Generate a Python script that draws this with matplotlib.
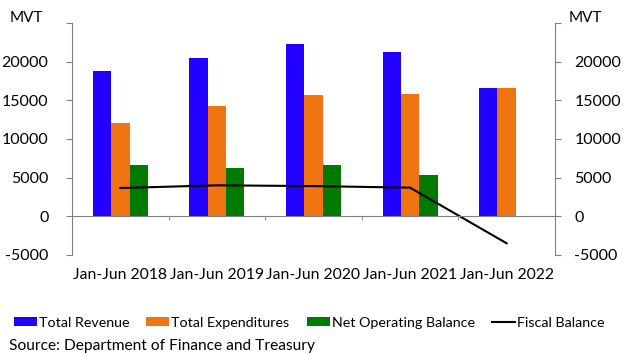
import numpy as np
import matplotlib
matplotlib.use("Agg")
import matplotlib.pyplot as plt

periods = ["Jan-Jun 2018", "Jan-Jun 2019", "Jan-Jun 2020", "Jan-Jun 2021", "Jan-Jun 2022"]
total_revenue = [18800, 20500, 22300, 21300, 16550]
total_expenditures = [12100, 14200, 15700, 15800, 16550]
net_operating_balance = [6650, 6250, 6600, 5350, 0]
fiscal_balance = [3650, 4000, 3900, 3700, -3500]

plt.rcParams['font.family'] = ['Lato', 'DejaVu Sans']
plt.rcParams['font.size'] = 11

blue = '#2200ff'
orange = '#f07412'
green = '#007a00'
grey = '#808080'

fig = plt.figure(figsize=(6.27, 3.54), dpi=100)
ax = fig.add_axes([0.115, 0.28, 0.77, 0.655])

x = np.arange(len(periods))
w = 0.19
ax.bar(x - w, total_revenue, w, color=blue, label='Total Revenue')
ax.bar(x, total_expenditures, w, color=orange, label='Total Expenditures')
ax.bar(x + w, net_operating_balance, w, color=green, label='Net Operating Balance')
ax.plot(x, fiscal_balance, color='black', lw=1.5, label='Fiscal Balance')

ax.set_xlim(-0.5, len(periods) - 0.5)
ax.set_ylim(-5000, 25000)
yt = [-5000, 0, 5000, 10000, 15000, 20000, 25000]
ylab = ['-5000', '0', '5000', '10000', '15000', '20000', '']
ax.set_yticks(yt)
ax.set_yticklabels(ylab)

for s in ['top', 'right']:
    ax.spines[s].set_visible(False)
ax.spines['left'].set_color(grey)
ax.spines['bottom'].set_position(('data', 0))
ax.spines['bottom'].set_color(grey)
ax.tick_params(axis='y', length=4, color=grey, pad=13, labelsize=11.5)

ax.set_xticks(x)
ax.set_xticklabels(periods)
ax.tick_params(axis='x', which='major', length=0, pad=37, labelsize=11.3)
ax.set_xticks(np.arange(len(periods) + 1) - 0.5, minor=True)
ax.tick_params(axis='x', which='minor', length=3, color=grey)

ax2 = ax.twinx()
ax2.set_ylim(ax.get_ylim())
ax2.set_yticks(yt)
ax2.set_yticklabels(ylab)
for s in ['top', 'left', 'bottom']:
    ax2.spines[s].set_visible(False)
ax2.spines['right'].set_color(grey)
ax2.tick_params(axis='y', length=4, color=grey, pad=10, labelsize=11.5)

fig.text(0.042, 0.948, 'MVT', ha='center', va='center', fontsize=11)
fig.text(0.934, 0.948, 'MVT', ha='center', va='center', fontsize=11)

handles, labels = ax.get_legend_handles_labels()
order = [1, 2, 3, 0]
fig.legend([handles[i] for i in order], [labels[i] for i in order],
           loc='center', bbox_to_anchor=(0.493, 0.088), ncol=4, frameon=False,
           fontsize=10.3, handlelength=1.6, handleheight=0.55, handletextpad=0.15,
           columnspacing=1.2)
fig.text(0.015, 0.01, 'Source: Department of Finance and Treasury', fontsize=11.2)

fig.savefig('out.png', dpi=100)
